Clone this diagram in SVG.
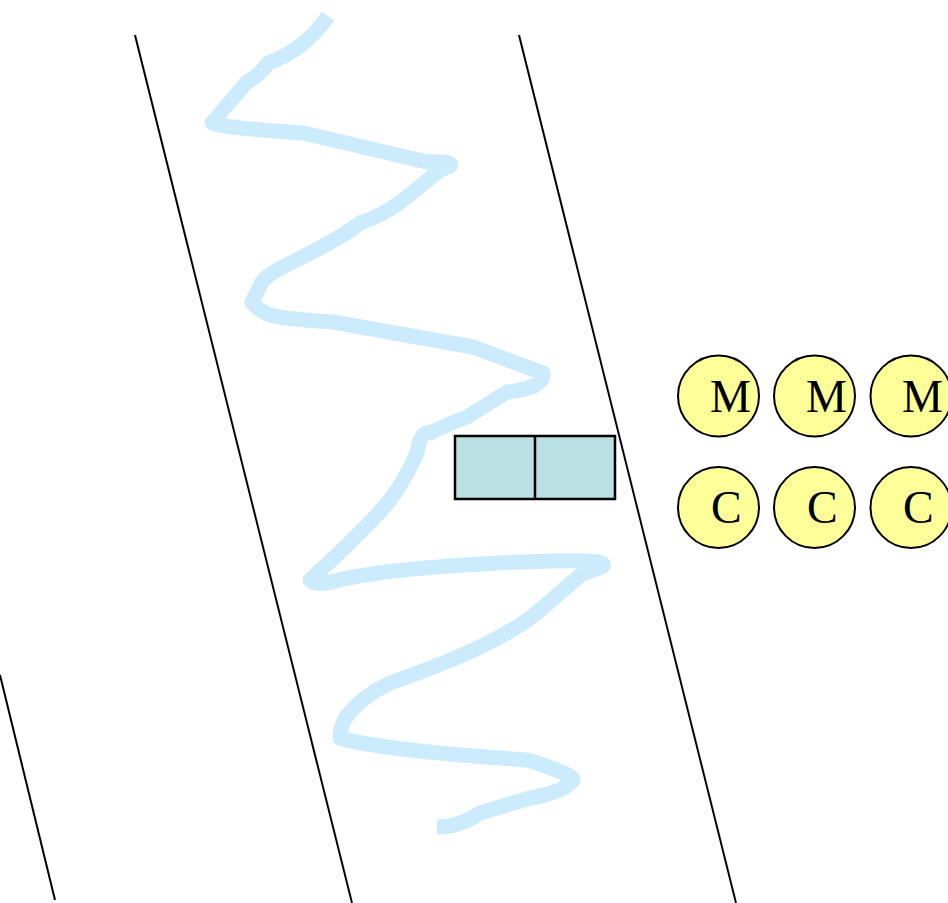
<svg xmlns="http://www.w3.org/2000/svg" width="948" height="903" viewBox="0 0 948 903">
<style>
.bank{stroke:#000;stroke-width:2;fill:none}
.river{stroke:#CCEBFD;stroke-width:15;fill:none;stroke-linejoin:round;stroke-linecap:butt}
.boat{fill:#BBE0E3;stroke:#000;stroke-width:2.5}
.p{fill:#FFFF99;stroke:#000;stroke-width:2}
.t{font-family:"Liberation Serif",serif;font-size:46px;fill:#000}
</style>
<rect width="948" height="903" fill="#fff"/>
<g id="banks">
<line class="bank" x1="135" y1="35" x2="352" y2="903"/>
<line class="bank" x1="519" y1="35" x2="736" y2="903"/>
<line class="bank" x1="0" y1="675" x2="55" y2="900"/>
</g>
<g id="river">
<path class="river" d="M328,16 Q305,50 268,63 Q260,75 247,82 L212,123 Q216,127 303,133 L363,147 L427,162 Q455,161 450,166 L440,170 L407,197 Q385,215 360,223 Q345,236 283,267 Q268,274 262,282 L252,302 Q262,315 280,317 Q300,320 333,322 L473,347 L543,373 Q545,388 507,392 L467,417 Q450,423 430,433 Q420,431 417,453 Q405,480 390,500 Q370,525 310,580 Q315,585 327,583 Q380,568 523,562 Q610,558 603,566 Q595,570 583,573 L540,610 Q500,645 390,683 Q365,695 352,710 Q340,722 340,738 Q380,750 527,760 Q575,775 573,780 Q565,792 530,798 L480,813 Q460,827 437,827"/>
</g>
<g id="boat">
<rect class="boat" x="455" y="436" width="160" height="63"/>
<line x1="535" y1="436" x2="535" y2="499" stroke="#000" stroke-width="2.5"/>
</g>
<g id="m1"><circle class="p" cx="718.5" cy="396" r="40.5"/><text class="t" x="710" y="412">M</text></g>
<g id="m2"><circle class="p" cx="814.5" cy="396" r="40.5"/><text class="t" x="806" y="412">M</text></g>
<g id="m3"><circle class="p" cx="911" cy="396" r="40.5"/><text class="t" x="902" y="412">M</text></g>
<g id="c1"><circle class="p" cx="718.5" cy="507.5" r="40.5"/><text class="t" x="711" y="523">C</text></g>
<g id="c2"><circle class="p" cx="814.5" cy="507.5" r="40.5"/><text class="t" x="807" y="523">C</text></g>
<g id="c3"><circle class="p" cx="911" cy="507.5" r="40.5"/><text class="t" x="903" y="523">C</text></g>
</svg>
